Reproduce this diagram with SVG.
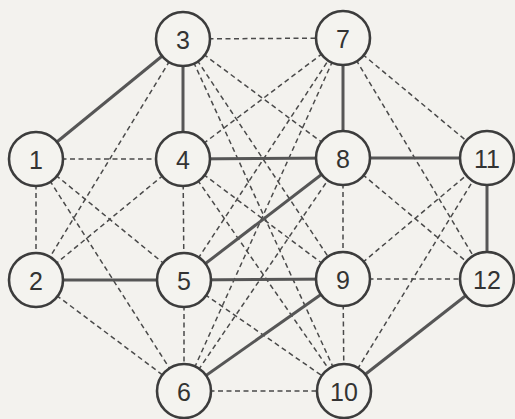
<svg xmlns="http://www.w3.org/2000/svg" width="515" height="419" viewBox="0 0 515 419">
<style>
.s{stroke:#565656;stroke-width:3;fill:none}
.d{stroke:#4a4a4a;stroke-width:1.5;stroke-dasharray:5 3.5;fill:none}
.n circle{fill:#f4f3ef;stroke:#3c3c3c;stroke-width:2.6}
.n text{font-family:"Liberation Sans",Arial,sans-serif;font-size:25px;fill:#333;text-anchor:middle;dominant-baseline:central}
</style>
<rect width="515" height="419" fill="#f3f2ee"/>
<g id="connectors">
<line class="d" x1="183" y1="39" x2="343" y2="38"/>
<line class="d" x1="36" y1="159" x2="183" y2="159"/>
<line class="d" x1="36" y1="159" x2="36" y2="280"/>
<line class="d" x1="36" y1="159" x2="184" y2="280"/>
<line class="d" x1="36" y1="159" x2="184" y2="391"/>
<line class="d" x1="183" y1="39" x2="36" y2="280"/>
<line class="d" x1="183" y1="39" x2="343" y2="158"/>
<line class="d" x1="183" y1="39" x2="343" y2="279"/>
<line class="d" x1="183" y1="39" x2="344" y2="391"/>
<line class="d" x1="183" y1="159" x2="36" y2="280"/>
<line class="d" x1="183" y1="159" x2="184" y2="280"/>
<line class="d" x1="183" y1="159" x2="343" y2="38"/>
<line class="d" x1="183" y1="159" x2="343" y2="279"/>
<line class="d" x1="183" y1="159" x2="344" y2="391"/>
<line class="d" x1="36" y1="280" x2="184" y2="391"/>
<line class="d" x1="184" y1="280" x2="184" y2="391"/>
<line class="d" x1="184" y1="280" x2="343" y2="38"/>
<line class="d" x1="184" y1="280" x2="344" y2="391"/>
<line class="d" x1="184" y1="391" x2="343" y2="38"/>
<line class="d" x1="184" y1="391" x2="343" y2="158"/>
<line class="d" x1="184" y1="391" x2="344" y2="391"/>
<line class="d" x1="343" y1="38" x2="487" y2="158"/>
<line class="d" x1="343" y1="38" x2="487" y2="279"/>
<line class="d" x1="343" y1="158" x2="343" y2="279"/>
<line class="d" x1="343" y1="158" x2="487" y2="279"/>
<line class="d" x1="343" y1="279" x2="487" y2="158"/>
<line class="d" x1="343" y1="279" x2="487" y2="279"/>
<line class="d" x1="343" y1="279" x2="344" y2="391"/>
<line class="d" x1="344" y1="391" x2="487" y2="158"/>
<line class="s" x1="36" y1="159" x2="183" y2="39"/>
<line class="s" x1="183" y1="39" x2="183" y2="159"/>
<line class="s" x1="183" y1="159" x2="343" y2="158"/>
<line class="s" x1="343" y1="38" x2="343" y2="158"/>
<line class="s" x1="343" y1="158" x2="487" y2="158"/>
<line class="s" x1="487" y1="158" x2="487" y2="279"/>
<line class="s" x1="36" y1="280" x2="184" y2="280"/>
<line class="s" x1="184" y1="280" x2="343" y2="279"/>
<line class="s" x1="184" y1="280" x2="343" y2="158"/>
<line class="s" x1="184" y1="391" x2="343" y2="279"/>
<line class="s" x1="344" y1="391" x2="487" y2="279"/>
</g>
<g id="n1" class="n"><circle cx="36" cy="159" r="27"/><text x="36" y="160">1</text></g>
<g id="n2" class="n"><circle cx="36" cy="280" r="27"/><text x="36" y="281">2</text></g>
<g id="n3" class="n"><circle cx="183" cy="39" r="27"/><text x="183" y="40">3</text></g>
<g id="n4" class="n"><circle cx="183" cy="159" r="27"/><text x="183" y="160">4</text></g>
<g id="n5" class="n"><circle cx="184" cy="280" r="27"/><text x="184" y="281">5</text></g>
<g id="n6" class="n"><circle cx="184" cy="391" r="27"/><text x="184" y="392">6</text></g>
<g id="n7" class="n"><circle cx="343" cy="38" r="27"/><text x="343" y="39">7</text></g>
<g id="n8" class="n"><circle cx="343" cy="158" r="27"/><text x="343" y="159">8</text></g>
<g id="n9" class="n"><circle cx="343" cy="279" r="27"/><text x="343" y="280">9</text></g>
<g id="n10" class="n"><circle cx="344" cy="391" r="27"/><text x="344" y="392">10</text></g>
<g id="n11" class="n"><circle cx="487" cy="158" r="27"/><text x="487" y="159">11</text></g>
<g id="n12" class="n"><circle cx="487" cy="279" r="27"/><text x="487" y="280">12</text></g>
</svg>
